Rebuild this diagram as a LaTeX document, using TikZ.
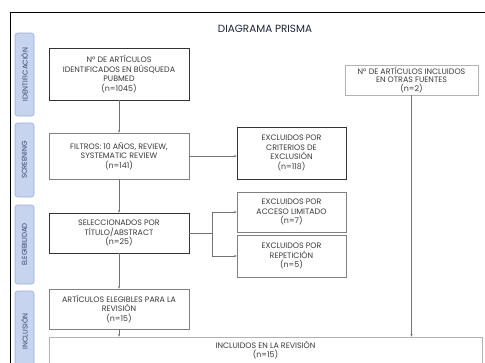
\documentclass[tikz,border=0pt]{standalone}
\usepackage{fontspec}
\setmainfont{Poppins}
\usetikzlibrary{arrows.meta,positioning}
\definecolor{fasefill}{HTML}{C7D4EF}
\definecolor{faseline}{HTML}{9EAED0}
\definecolor{fasetext}{HTML}{34456A}
\definecolor{cajatext}{HTML}{3A3A3A}
\tikzset{
  caja/.style={draw=black!50, line width=0.6pt, fill=white, align=center, inner sep=1pt,
    text=cajatext, font=\fontsize{7.9}{9.6}\selectfont},
  cajaosc/.style={caja, draw=black!80},
  fase/.style={draw=faseline, fill=fasefill, rounded corners=2.5pt, line width=0.6pt,
    minimum height=19pt, inner sep=1pt, text=fasetext, font=\fontsize{7}{8}\selectfont, rotate=90},
  flecha/.style={draw=black!55, line width=0.5pt, -{Stealth[length=2.6pt,width=2.2pt]}},
  linea/.style={draw=black!55, line width=0.5pt}
}
\begin{document}
\begin{tikzpicture}[x=1pt,y=-1pt]
  \useasboundingbox (0,0) rectangle (485,362);
  \clip (0,0) rectangle (485,362);
  \fill[white] (0,0) rectangle (485,362);
  \draw[black, line width=0.9pt] (10,380) -- (10,12) -- (500,12);
  \node[text=black!45!fasetext, font=\fontsize{10.4}{12}\selectfont] (titulo) at (265,29) {DIAGRAMA PRISMA};

  \node[fase, minimum width=83pt] (fident) at (24.5,74.5) {IDENTIFICACIÓN};
  \node[fase, minimum width=74pt] (fscreen) at (24.5,160) {SCREENING};
  \node[fase, minimum width=79pt] (feleg) at (24.5,244.5) {ELEGIBILIDAD};
  \node[fase, minimum width=81pt] (fincl) at (24.5,331.5) {INCLUSIÓN};

  \node[cajaosc, minimum width=140pt, minimum height=52pt] (identif) at (119,74)
    {Nº DE ARTÍCULOS\\IDENTIFICADOS EN BÚSQUEDA\\PUBMED\\(n=1045)};
  \node[caja, minimum width=140pt, minimum height=46pt] (filtros) at (119,156)
    {FILTROS: 10 AÑOS, REVIEW,\\SYSTEMATIC REVIEW\\(n=141)};
  \node[cajaosc, minimum width=140pt, minimum height=40pt] (selec) at (119,233)
    {SELECCIONADOS POR\\TÍTULO/ABSTRACT\\(n=25)};
  \node[caja, minimum width=140pt, minimum height=40pt] (elegib) at (119,309)
    {ARTÍCULOS ELEGIBLES PARA LA\\REVISIÓN\\(n=15)};

  \node[cajaosc, minimum width=109pt, minimum height=52pt] (exccrit) at (291.5,153)
    {EXCLUIDOS POR\\CRITERIOS DE\\EXCLUSIÓN\\(n=118)};
  \node[caja, minimum width=109pt, minimum height=40pt] (excacc) at (291.5,212)
    {EXCLUIDOS POR\\ACCESO LIMITADO\\(n=7)};
  \node[caja, minimum width=109pt, minimum height=42pt] (excrep) at (291.5,256)
    {EXCLUIDOS POR\\REPETICIÓN\\(n=5)};

  \node[caja, draw=black!30, font=\fontsize{7.9}{8.4}\selectfont, minimum width=133pt, minimum height=30pt] (otras) at (411.5,80)
    {Nº DE ARTÍCULOS INCLUIDOS\\EN OTRAS FUENTES\\(n=2)};
  \node[caja, draw=black!30, font=\fontsize{7.9}{8.4}\selectfont, minimum width=433pt, minimum height=26pt] (incluidos) at (265.5,350)
    {INCLUIDOS EN LA REVISIÓN\\(n=15)};

  \draw[flecha] (identif) -- (filtros);
  \draw[flecha] (filtros) -- (exccrit.west |- filtros.east);
  \draw[flecha] (filtros) -- (selec);
  \coordinate (rama) at (212,233);
  \draw[linea] (selec.east) -- (rama);
  \draw[flecha] (rama) |- (excacc.west);
  \draw[flecha] (rama) |- (excrep.west);
  \draw[flecha] (selec) -- (elegib);
  \draw[flecha] (elegib) -- (incluidos.north -| elegib.south);
  \draw[flecha] (otras.south) -- (otras.south |- incluidos.north);
\end{tikzpicture}
\end{document}
